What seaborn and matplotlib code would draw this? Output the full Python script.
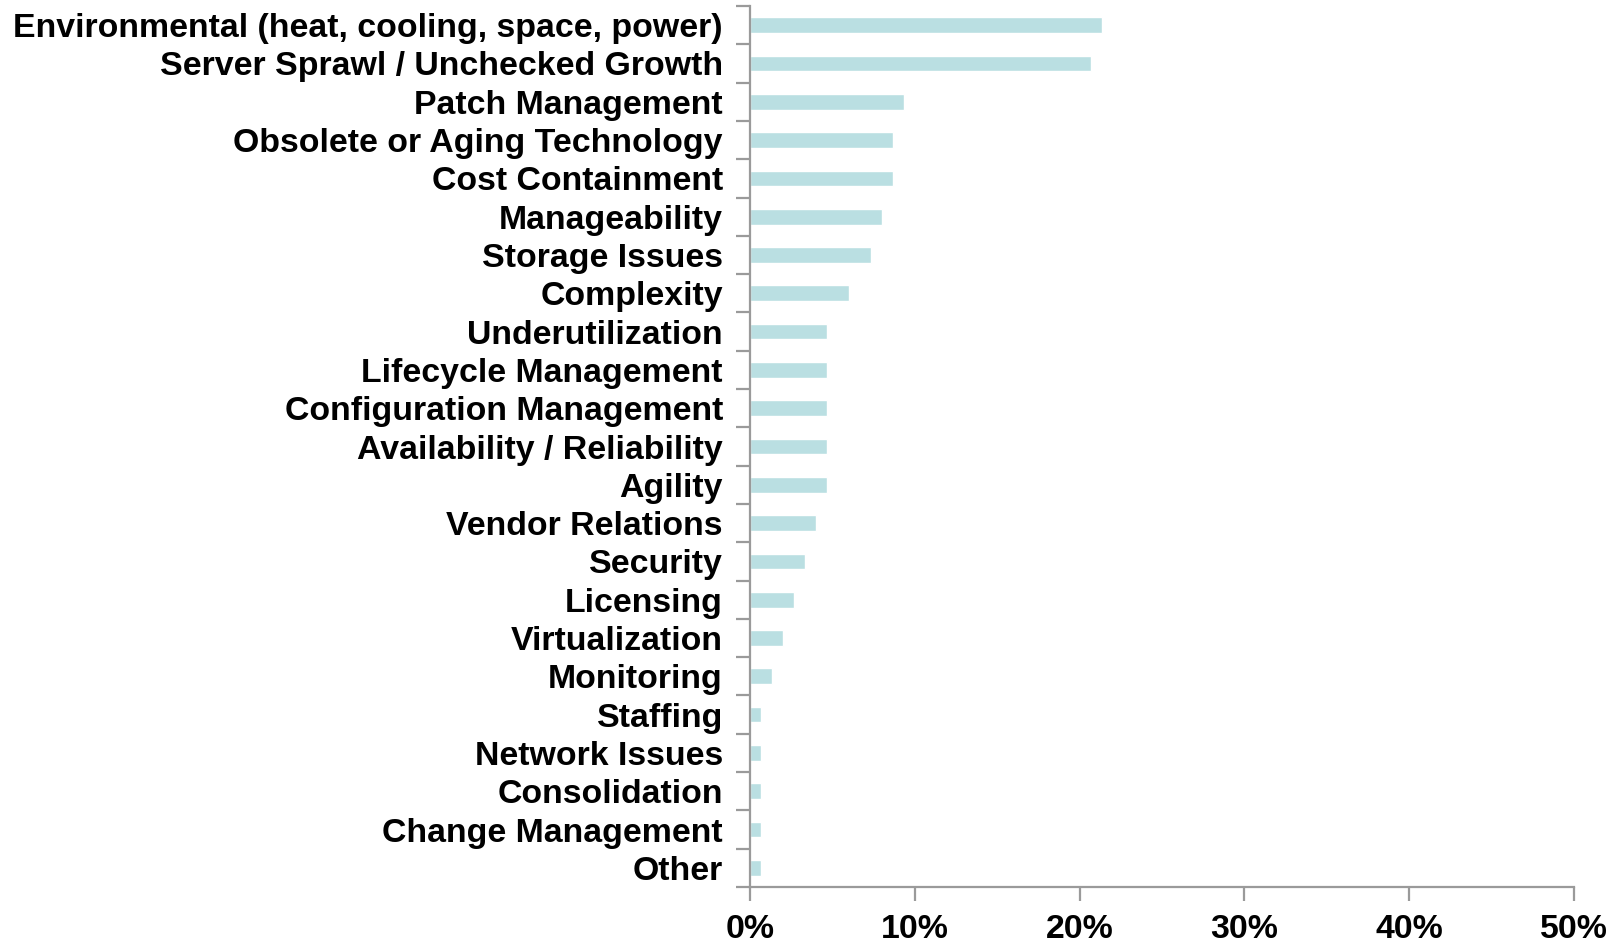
import matplotlib
matplotlib.use("Agg")
import matplotlib.pyplot as plt
import seaborn as sns
import pandas as pd
import numpy as np
from matplotlib.ticker import FixedLocator, PercentFormatter

categories = [
    "Environmental (heat, cooling, space, power)",
    "Server Sprawl / Unchecked Growth",
    "Patch Management",
    "Obsolete or Aging Technology",
    "Cost Containment",
    "Manageability",
    "Storage Issues",
    "Complexity",
    "Underutilization",
    "Lifecycle Management",
    "Configuration Management",
    "Availability / Reliability",
    "Agility",
    "Vendor Relations",
    "Security",
    "Licensing",
    "Virtualization",
    "Monitoring",
    "Staffing",
    "Network Issues",
    "Consolidation",
    "Change Management",
    "Other",
]
values = [21.33, 20.67, 9.33, 8.67, 8.67, 8.0, 7.33, 6.0, 4.67, 4.67, 4.67, 4.67, 4.67,
          4.0, 3.33, 2.67, 2.0, 1.33, 0.67, 0.67, 0.67, 0.67, 0.67]
x_ticks = [0, 10, 20, 30, 40, 50]

df = pd.DataFrame({"category": categories, "value": values})

sns.set_theme(style="white")
plt.rcParams["font.family"] = ["Liberation Sans", "DejaVu Sans"]

fig = plt.figure(figsize=(16.08, 9.43), dpi=100)
ax = fig.add_axes([750 / 1608, 1 - 887 / 943, (1574 - 750) / 1608, (887 - 6) / 943])

sns.barplot(data=df, x="value", y="category", orient="h", color="#BADFE2",
            saturation=1, width=0.41, ax=ax)

axis_color = "#9A9A9A"
ax.set_xlim(0, 50)
ax.set_ylim(len(categories) - 0.5, -0.5)
ax.set_xticks(x_ticks)
ax.xaxis.set_major_formatter(PercentFormatter(decimals=0))
ax.set_xlabel("")
ax.set_ylabel("")

for s in ["top", "right"]:
    ax.spines[s].set_visible(False)
for s in ["left", "bottom"]:
    ax.spines[s].set_color(axis_color)
    ax.spines[s].set_linewidth(1.6)

ax.yaxis.set_minor_locator(FixedLocator(np.arange(-0.5, len(categories), 1.0)))
ax.tick_params(axis="y", which="major", length=0, pad=19.5, labelsize=24.4, labelcolor="black")
ax.tick_params(axis="y", which="minor", left=True, length=10, width=1.6, color=axis_color)
ax.tick_params(axis="x", which="major", bottom=True, length=10, width=1.6, color=axis_color,
               pad=9.5, labelsize=24.4, labelcolor="black")
for lab in ax.get_yticklabels() + ax.get_xticklabels():
    lab.set_fontweight("bold")

fig.savefig("out.png", dpi=100)
